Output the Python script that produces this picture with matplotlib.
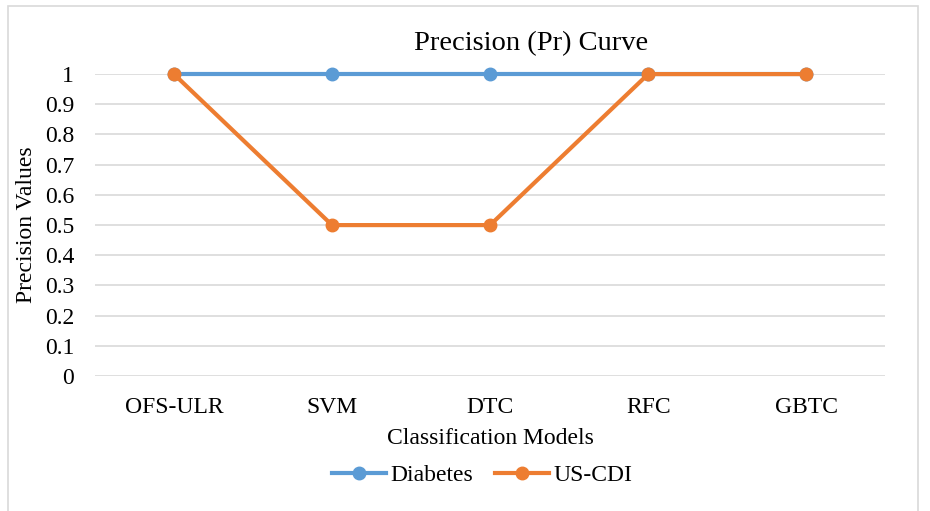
import matplotlib
matplotlib.use("Agg")
import matplotlib.pyplot as plt
from matplotlib.patches import Rectangle

plt.rcParams["font.family"] = ["Liberation Serif", "DejaVu Serif"]

models = ["OFS-ULR", "SVM", "DTC", "RFC", "GBTC"]
diabetes = [1, 1, 1, 1, 1]
us_cdi = [1, 0.5, 0.5, 1, 1]
y_ticks = [0, 0.1, 0.2, 0.3, 0.4, 0.5, 0.6, 0.7, 0.8, 0.9, 1]

fig = plt.figure(figsize=(9.3, 5.11), dpi=100)
ax = fig.add_axes([0.102, 0.264, 0.850, 0.591])

# chart border
fig.patches.append(Rectangle((8 / 930, -0.1), 910 / 930, 1.1 - 6 / 511,
                             transform=fig.transFigure, fill=False,
                             edgecolor="#D9D9D9", linewidth=1.2))

x = list(range(len(models)))
ax.plot(x, diabetes, color="#5B9BD5", linewidth=3, marker="o", markersize=9,
        label="Diabetes", clip_on=False, zorder=3)
ax.plot(x, us_cdi, color="#ED7D31", linewidth=3, marker="o", markersize=9,
        label="US-CDI", clip_on=False, zorder=4)

ax.set_xlim(-0.5, len(models) - 0.5)
ax.set_ylim(0, 1)
ax.set_yticks(y_ticks)
ax.set_yticklabels([f"{v:g}" for v in y_ticks])
ax.set_xticks(x)
ax.set_xticklabels(models)
ax.grid(axis="y", color="#D9D9D9", linewidth=1.2)
ax.set_axisbelow(True)
for s in ax.spines.values():
    s.set_visible(False)
ax.tick_params(length=0, labelsize=17)
ax.tick_params(axis="x", pad=15)
ax.tick_params(axis="y", pad=15)

ax.set_xlabel("Classification Models", fontsize=17, va="center")
ax.xaxis.set_label_coords(0.5, -0.205)
ax.set_ylabel("Precision Values", fontsize=17, va="center")
ax.yaxis.set_label_coords(-0.087, 0.5)
fig.text(531 / 930, 1 - 44 / 511, "Precision (Pr) Curve", fontsize=20.5,
         ha="center", va="center")

fig.legend(loc="center", bbox_to_anchor=(482 / 930, 1 - 475 / 511), ncol=2,
           frameon=False, fontsize=17, handlelength=2.3, handletextpad=0.17,
           columnspacing=0.95)

fig.savefig("out.png", dpi=100)
